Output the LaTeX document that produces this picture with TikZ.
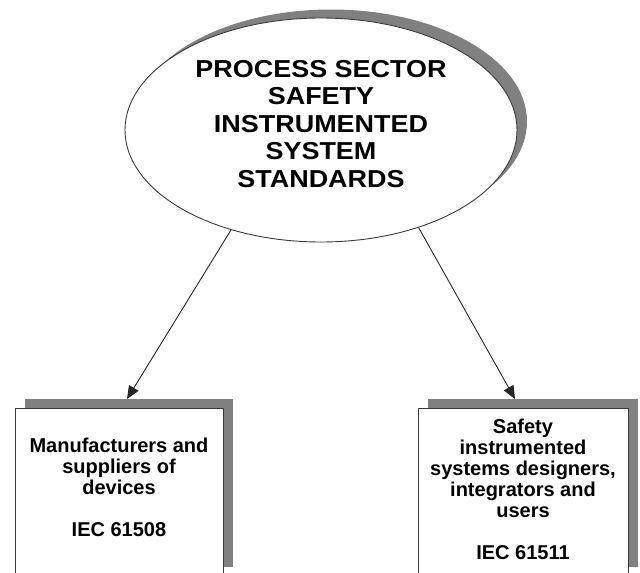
\documentclass[tikz,border=0pt]{standalone}
\usepackage{fontspec}
\setmainfont{Liberation Sans}
\newfontfamily\widefont[FakeStretch=1.1]{Liberation Sans}
\usetikzlibrary{shapes.geometric,shadows,arrows.meta}
\definecolor{shadowgray}{HTML}{808080}
\definecolor{linegray}{HTML}{3A3A3A}
\tikzset{
  shad/.style={drop shadow={shadow xshift=10pt, shadow yshift=9pt, fill=shadowgray, opacity=1}},
  sbox/.style={rectangle, draw=linegray, fill=white, line width=0.9pt, inner sep=0pt, shad},
  boxtext/.style={align=center, inner sep=0pt, font=\bfseries\fontsize{20}{21}\selectfont},
  arr/.style={draw=black!85, line width=0.9pt, -{Triangle[length=13pt,width=11pt]}}
}
\begin{document}
\begin{tikzpicture}[x=1pt,y=-1pt]
\useasboundingbox (0,0) rectangle (640,573);
\clip (0,0) rectangle (640,573);
% central ellipse
\node[ellipse, draw=linegray, fill=white, line width=0.9pt, inner sep=0pt,
      minimum width=392pt, minimum height=224pt,
      drop shadow={shadow xshift=10pt, shadow yshift=8.5pt, fill=shadowgray, opacity=1}] (ell) at (321,130) {};
\node[align=center, inner sep=0pt, font=\widefont\bfseries\fontsize{24.5}{27.5}\selectfont] (title) at (321,124)
  {PROCESS SECTOR\\SAFETY\\INSTRUMENTED\\SYSTEM\\STANDARDS};
% boxes
\node[sbox, minimum width=208pt, minimum height=168pt] (b1) at (119,492) {};
\node[sbox, minimum width=210pt, minimum height=168pt] (b2) at (523,492) {};
\node[boxtext] (t1) at (119,487) {Manufacturers and\\suppliers of\\devices\\[21pt]IEC 61508};
\node[boxtext] (t2) at (523,489) {Safety\\instrumented\\systems designers,\\integrators and\\users\\[21pt]IEC 61511};
% arrows
\coordinate (lt) at (127,399);
\coordinate (rt) at (515,399);
\draw[arr] (ell.228.4) -- (lt);
\draw[arr] (ell.315) -- (rt);
\end{tikzpicture}
\end{document}
